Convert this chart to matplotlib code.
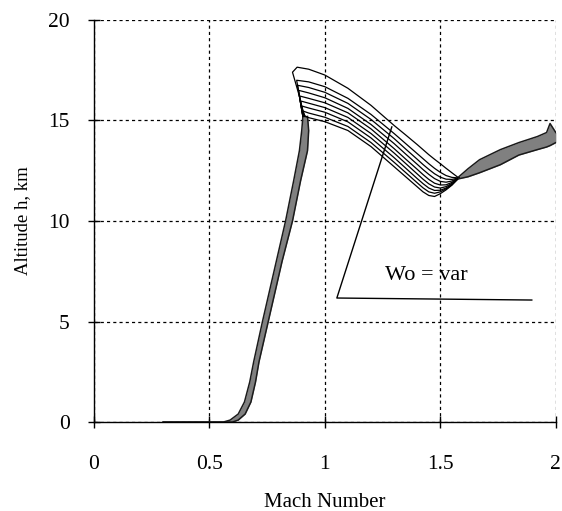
import matplotlib
matplotlib.use('Agg')
import matplotlib.pyplot as plt
import numpy as np

plt.rcParams['font.family'] = ['Liberation Serif', 'DejaVu Serif']

# 爬升段（灰色带）
climb_h = [0, 0, 0.1, 0.4, 1.0, 2.0, 3.0, 5.0, 8.0, 10.0, 12.0, 13.5, 14.5, 15.2]
climb_left = [0.30, 0.56, 0.59, 0.625, 0.652, 0.675, 0.692, 0.73, 0.79, 0.83, 0.865, 0.89, 0.90, 0.905]
climb_right = [0.30, 0.60, 0.625, 0.655, 0.68, 0.70, 0.715, 0.755, 0.815, 0.86, 0.895, 0.925, 0.93, 0.925]

# 巡航段：9条曲线 (Wo = var)
cruise_M = [1.0, 1.1, 1.2, 1.3, 1.35, 1.4, 1.425, 1.45, 1.475, 1.5, 1.525, 1.55, 1.58]
cruise_h = [
    [17.26, 16.60, 15.75, 14.75, 14.28, 13.80, 13.55, 13.30, 13.07, 12.85, 12.62, 12.40, 12.14],
    [16.68, 16.10, 15.30, 14.35, 13.85, 13.35, 13.10, 12.85, 12.62, 12.42, 12.26, 12.17, 12.14],
    [16.40, 15.85, 15.05, 14.10, 13.58, 13.07, 12.81, 12.57, 12.35, 12.18, 12.08, 12.07, 12.14],
    [16.13, 15.60, 14.80, 13.85, 13.33, 12.82, 12.56, 12.32, 12.11, 11.97, 11.93, 11.99, 12.14],
    [15.88, 15.38, 14.58, 13.60, 13.08, 12.57, 12.31, 12.07, 11.88, 11.79, 11.80, 11.92, 12.14],
    [15.64, 15.15, 14.35, 13.38, 12.86, 12.34, 12.08, 11.85, 11.69, 11.64, 11.71, 11.87, 12.14],
    [15.41, 14.93, 14.13, 13.15, 12.63, 12.11, 11.86, 11.64, 11.52, 11.53, 11.64, 11.83, 12.14],
    [15.16, 14.70, 13.90, 12.92, 12.41, 11.90, 11.65, 11.45, 11.38, 11.45, 11.60, 11.80, 12.14],
    [14.94, 14.50, 13.70, 12.70, 12.20, 11.70, 11.45, 11.27, 11.22, 11.36, 11.55, 11.78, 12.14],
]
# 各曲线左端（与爬升带相接 -> 峰值）
peak_M = [[0.905, 0.89, 0.86, 0.88, 0.93],
          [0.905, 0.878, 0.93], [0.905, 0.882, 0.93], [0.905, 0.886, 0.93],
          [0.908, 0.89, 0.93], [0.91, 0.895, 0.93], [0.912, 0.90, 0.93],
          [0.915, 0.905, 0.93], [0.918, 0.91, 0.93]]
peak_h = [[15.2, 16.2, 17.4, 17.65, 17.55],
          [15.2, 17.0, 16.92], [15.2, 16.75, 16.64], [15.2, 16.5, 16.37],
          [15.2, 16.22, 16.10], [15.2, 15.97, 15.86], [15.2, 15.72, 15.62],
          [15.2, 15.47, 15.37], [15.2, 15.22, 15.14]]

# 末段（灰色带）
end_M = [1.58, 1.62, 1.67, 1.76, 1.84, 1.92, 1.96, 1.975, 2.0]
end_upper = [12.2, 12.6, 13.05, 13.55, 13.9, 14.2, 14.4, 14.85, 14.4]
end_lower = [12.1, 12.2, 12.4, 12.8, 13.28, 13.55, 13.68, 13.75, 13.9]

fig = plt.figure(figsize=(5.62, 5.11), dpi=100)
ax = fig.add_axes([0.167, 0.174, 0.822, 0.787])

# 网格
ax.grid(True, color='black', linestyle=(0, (2.5, 2.5)), linewidth=0.9)
ax.set_axisbelow(True)

# 爬升带
ax.fill_betweenx(climb_h, climb_left, climb_right, color='#808080', linewidth=0)
ax.plot(climb_left, climb_h, color='#1a1a1a', lw=1.1)
ax.plot(climb_right, climb_h, color='#1a1a1a', lw=1.1)

# 巡航曲线
for pm, ph, ch in zip(peak_M, peak_h, cruise_h):
    ax.plot(pm + cruise_M, ph + ch, color='black', lw=0.9)

# 末段带
ax.fill_between(end_M, end_lower, end_upper, color='#808080', linewidth=0)
ax.plot(end_M, end_upper, color='#1a1a1a', lw=1.1)
ax.plot(end_M, end_lower, color='#1a1a1a', lw=1.1)

# 标注
ax.plot([1.29, 1.052, 1.896], [14.68, 6.17, 6.07], color='black', lw=1.0)
ax.text(1.44, 7.3, 'Wo = var', fontsize=16, ha='center', va='center')

ax.set_xlim(0, 2)
ax.set_ylim(0, 20)
ax.set_xticks([0, 0.5, 1, 1.5, 2])
ax.set_xticklabels(['0', '0.5', '1', '1.5', '2'])
ax.set_yticks([0, 5, 10, 15, 20])

for s in ['top', 'right']:
    ax.spines[s].set_visible(False)
for s in ['left', 'bottom']:
    ax.spines[s].set_linewidth(1.0)

ax.tick_params(axis='both', direction='inout', length=9, width=1.0, labelsize=15.5)
ax.tick_params(axis='x', pad=19)
ax.tick_params(axis='y', pad=13)

ax.set_xlabel('Mach Number', fontsize=15, labelpad=14)
ax.set_ylabel('Altitude h, km', fontsize=13.5, labelpad=12)

fig.savefig('out.png', dpi=100)
